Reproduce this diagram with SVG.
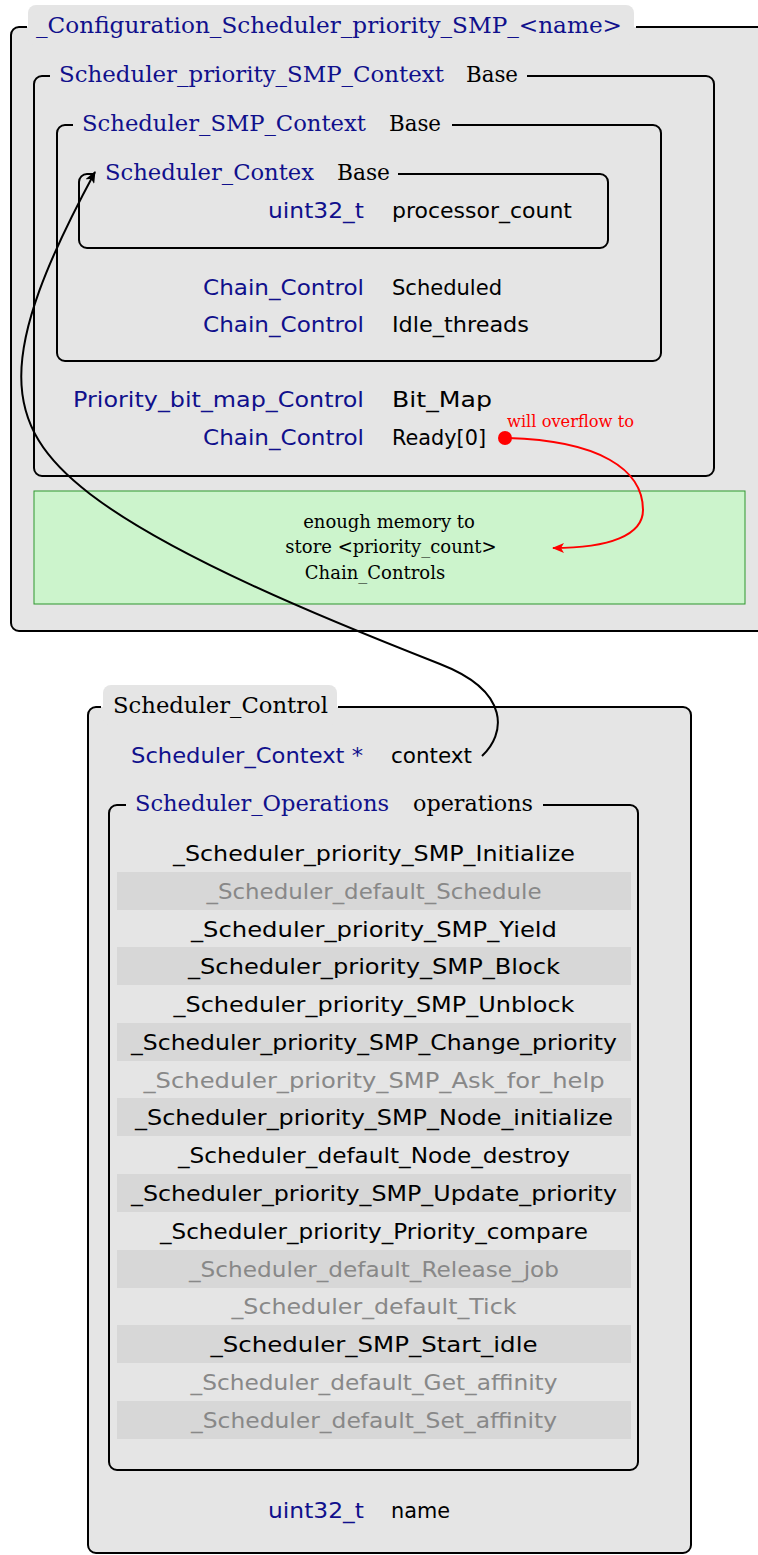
<svg xmlns="http://www.w3.org/2000/svg" width="758" height="1555" viewBox="0 0 758 1555">
  <defs>
    <marker id="arrowBlack" viewBox="0 0 12 10" refX="11" refY="5" markerWidth="12" markerHeight="10" markerUnits="userSpaceOnUse" orient="auto">
      <path d="M0,0 L12,5 L0,10 L3,5 Z" fill="#000"/>
    </marker>
    <marker id="arrowRed" viewBox="0 0 12 10" refX="11" refY="5" markerWidth="12" markerHeight="10" markerUnits="userSpaceOnUse" orient="auto">
      <path d="M0,0 L12,5 L0,10 L3,5 Z" fill="#f00"/>
    </marker>
  </defs>
  <style>
    .fill { fill: #e5e5e5; stroke: none; }
    .frame { fill: none; stroke: #000; stroke-width: 2; }
    .serif { font-family: "DejaVu Serif", "Liberation Serif", serif; font-size: 22px; }
    .sans { font-family: "DejaVu Sans", "Liberation Sans", sans-serif; font-size: 22px; }
    .type { fill: #10108c; }
    .name { fill: #000; }
    .dim { fill: #888; }
    .row { fill: #d7d7d7; }
    .op { text-anchor: middle; }
    .note { font-family: "DejaVu Serif", "Liberation Serif", serif; font-size: 18px; fill: #000; text-anchor: middle; }
  </style>

  <!-- outer configuration structure -->
  <g id="configuration">
    <rect class="fill" x="11" y="27" width="770" height="604" rx="8"/>
    <rect class="fill" x="28" y="5" width="606" height="40" rx="8"/>
    <path class="frame" d="M636 27 H790 M790 631 H19 A8 8 0 0 1 11 623 V35 A8 8 0 0 1 19 27 H27"/>
    <text class="serif type" x="36" y="33" textLength="586" lengthAdjust="spacingAndGlyphs">_Configuration_Scheduler_priority_SMP_&lt;name&gt;</text>
  </g>

  <g id="priority-smp-context">
    <path class="frame" d="M527 76 H706 A8 8 0 0 1 714 84 V468 A8 8 0 0 1 706 476 H42 A8 8 0 0 1 34 468 V84 A8 8 0 0 1 42 76 H50"/>
    <text class="serif type" x="59" y="82" textLength="385" lengthAdjust="spacingAndGlyphs">Scheduler_priority_SMP_Context</text>
    <text class="serif name" x="466" y="82" textLength="52" lengthAdjust="spacingAndGlyphs">Base</text>
    <text class="sans type" x="364" y="407" text-anchor="end" textLength="291" lengthAdjust="spacingAndGlyphs">Priority_bit_map_Control</text>
    <text class="sans name" x="392" y="407" textLength="100" lengthAdjust="spacingAndGlyphs">Bit_Map</text>
    <text class="sans type" x="364" y="445" text-anchor="end" textLength="161" lengthAdjust="spacingAndGlyphs">Chain_Control</text>
    <text class="sans name" x="392" y="445" textLength="94" lengthAdjust="spacingAndGlyphs">Ready[0]</text>
  </g>

  <g id="smp-context">
    <path class="frame" d="M452 125 H653 A8 8 0 0 1 661 133 V353 A8 8 0 0 1 653 361 H65 A8 8 0 0 1 57 353 V133 A8 8 0 0 1 65 125 H73"/>
    <text class="serif type" x="82" y="131" textLength="284" lengthAdjust="spacingAndGlyphs">Scheduler_SMP_Context</text>
    <text class="serif name" x="389" y="131" textLength="52" lengthAdjust="spacingAndGlyphs">Base</text>
    <text class="sans type" x="364" y="295" text-anchor="end" textLength="161" lengthAdjust="spacingAndGlyphs">Chain_Control</text>
    <text class="sans name" x="392" y="295" textLength="110" lengthAdjust="spacingAndGlyphs">Scheduled</text>
    <text class="sans type" x="364" y="332" text-anchor="end" textLength="161" lengthAdjust="spacingAndGlyphs">Chain_Control</text>
    <text class="sans name" x="392" y="332" textLength="137" lengthAdjust="spacingAndGlyphs">Idle_threads</text>
  </g>

  <g id="scheduler-context">
    <path class="frame" d="M398 174 H600 A8 8 0 0 1 608 182 V240 A8 8 0 0 1 600 248 H87 A8 8 0 0 1 79 240 V182 A8 8 0 0 1 87 174 H95"/>
    <text class="serif type" x="105" y="180" textLength="209" lengthAdjust="spacingAndGlyphs">Scheduler_Contex</text>
    <text class="serif name" x="337" y="180" textLength="53" lengthAdjust="spacingAndGlyphs">Base</text>
    <text class="sans type" x="364" y="218" text-anchor="end" textLength="96" lengthAdjust="spacingAndGlyphs">uint32_t</text>
    <text class="sans name" x="392" y="218" textLength="180" lengthAdjust="spacingAndGlyphs">processor_count</text>
  </g>

  <g id="ready-storage">
    <rect x="34" y="491" width="711" height="113" fill="#ccf4cc" stroke="#2f972f" stroke-width="1"/>
    <text class="note" x="389" y="528">enough memory to</text>
    <text class="note" x="391" y="553">store &lt;priority_count&gt;</text>
    <text class="note" x="375" y="579">Chain_Controls</text>
  </g>

  <!-- scheduler control structure -->
  <g id="scheduler-control">
    <rect class="fill" x="88" y="707" width="603" height="846" rx="8"/>
    <rect class="fill" x="103" y="685" width="234" height="40" rx="8"/>
    <path class="frame" d="M338 707 H683 A8 8 0 0 1 691 715 V1545 A8 8 0 0 1 683 1553 H96 A8 8 0 0 1 88 1545 V715 A8 8 0 0 1 96 707 H101"/>
    <text class="serif name" x="113" y="713" textLength="215" lengthAdjust="spacingAndGlyphs">Scheduler_Control</text>
    <text class="sans type" x="363" y="763" text-anchor="end" textLength="232" lengthAdjust="spacingAndGlyphs">Scheduler_Context *</text>
    <text class="sans name" x="391" y="763" textLength="81" lengthAdjust="spacingAndGlyphs">context</text>
    <text class="sans type" x="364" y="1518" text-anchor="end" textLength="96" lengthAdjust="spacingAndGlyphs">uint32_t</text>
    <text class="sans name" x="391" y="1518" textLength="59" lengthAdjust="spacingAndGlyphs">name</text>
  </g>

  <g id="scheduler-operations">
    <path class="frame" d="M543 805 H630 A8 8 0 0 1 638 813 V1462 A8 8 0 0 1 630 1470 H117 A8 8 0 0 1 109 1462 V813 A8 8 0 0 1 117 805 H126"/>
    <text class="serif type" x="135" y="811" textLength="254" lengthAdjust="spacingAndGlyphs">Scheduler_Operations</text>
    <text class="serif name" x="413" y="811" textLength="120" lengthAdjust="spacingAndGlyphs">operations</text>
    <rect class="row" x="117" y="872" width="514" height="38"/>
    <rect class="row" x="117" y="947" width="514" height="38"/>
    <rect class="row" x="117" y="1023" width="514" height="38"/>
    <rect class="row" x="117" y="1098" width="514" height="38"/>
    <rect class="row" x="117" y="1174" width="514" height="38"/>
    <rect class="row" x="117" y="1250" width="514" height="38"/>
    <rect class="row" x="117" y="1325" width="514" height="38"/>
    <rect class="row" x="117" y="1401" width="514" height="38"/>
    <text class="sans name op" x="374" y="861" textLength="402" lengthAdjust="spacingAndGlyphs">_Scheduler_priority_SMP_Initialize</text>
    <text class="sans dim op" x="374" y="899" textLength="335" lengthAdjust="spacingAndGlyphs">_Scheduler_default_Schedule</text>
    <text class="sans name op" x="374" y="937" textLength="366" lengthAdjust="spacingAndGlyphs">_Scheduler_priority_SMP_Yield</text>
    <text class="sans name op" x="374" y="974" textLength="372" lengthAdjust="spacingAndGlyphs">_Scheduler_priority_SMP_Block</text>
    <text class="sans name op" x="374" y="1012" textLength="401" lengthAdjust="spacingAndGlyphs">_Scheduler_priority_SMP_Unblock</text>
    <text class="sans name op" x="374" y="1050" textLength="486" lengthAdjust="spacingAndGlyphs">_Scheduler_priority_SMP_Change_priority</text>
    <text class="sans dim op" x="374" y="1088" textLength="461" lengthAdjust="spacingAndGlyphs">_Scheduler_priority_SMP_Ask_for_help</text>
    <text class="sans name op" x="374" y="1125" textLength="478" lengthAdjust="spacingAndGlyphs">_Scheduler_priority_SMP_Node_initialize</text>
    <text class="sans name op" x="374" y="1163" textLength="392" lengthAdjust="spacingAndGlyphs">_Scheduler_default_Node_destroy</text>
    <text class="sans name op" x="374" y="1201" textLength="486" lengthAdjust="spacingAndGlyphs">_Scheduler_priority_SMP_Update_priority</text>
    <text class="sans name op" x="374" y="1239" textLength="428" lengthAdjust="spacingAndGlyphs">_Scheduler_priority_Priority_compare</text>
    <text class="sans dim op" x="374" y="1277" textLength="370" lengthAdjust="spacingAndGlyphs">_Scheduler_default_Release_job</text>
    <text class="sans dim op" x="374" y="1314" textLength="285" lengthAdjust="spacingAndGlyphs">_Scheduler_default_Tick</text>
    <text class="sans name op" x="374" y="1352" textLength="327" lengthAdjust="spacingAndGlyphs">_Scheduler_SMP_Start_idle</text>
    <text class="sans dim op" x="374" y="1390" textLength="367" lengthAdjust="spacingAndGlyphs">_Scheduler_default_Get_affinity</text>
    <text class="sans dim op" x="374" y="1428" textLength="366" lengthAdjust="spacingAndGlyphs">_Scheduler_default_Set_affinity</text>
  </g>

  <!-- connectors -->
  <g id="connectors">
    <path d="M482 756 C505 735, 512 692, 440 664 C325 619, 171 556, 90 494 C0 425, -5 357, 95 172" fill="none" stroke="#000" stroke-width="2" marker-end="url(#arrowBlack)"/>
    <circle cx="505" cy="438" r="7" fill="#f00"/>
    <path d="M505 438 C600 440, 643 470, 643 510 C643 535, 610 548, 553 548" fill="none" stroke="#f00" stroke-width="2" marker-end="url(#arrowRed)"/>
    <text x="507" y="427" font-family="DejaVu Serif, Liberation Serif, serif" font-size="16" fill="#f00" textLength="127" lengthAdjust="spacingAndGlyphs">will overflow to</text>
  </g>
</svg>
